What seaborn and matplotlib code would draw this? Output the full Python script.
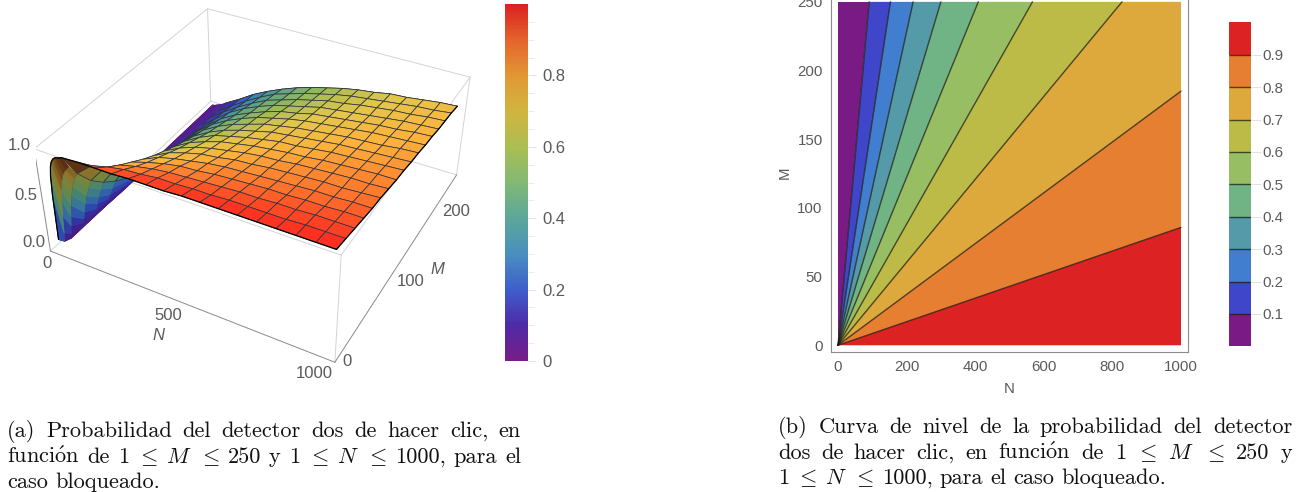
import numpy as np
import matplotlib
matplotlib.use("Agg")
import matplotlib.pyplot as plt
import seaborn as sns
from mpl_toolkits.mplot3d.art3d import Poly3DCollection

# === Data ===
# coarse part of the surface: one row per N mesh line, one column per M mesh line
n_coarse = [63.4, 125.9, 188.3, 250.8, 313.2, 375.6, 438.1, 500.5, 562.9, 625.4,
            687.8, 750.3, 812.7, 875.1, 937.6, 1000]
m_coarse = [1, 16.6, 32.1, 47.7, 63.3, 78.8, 94.4, 110, 125.5, 141.1, 156.6,
            172.2, 187.8, 203.3, 218.9, 234.4, 250]
p_coarse = [
    [.97, .72, .55, .43, .34, .27, .22, .19, .16, .14, .12, .10, .09, .08, .08, .07, .07],
    [.98, .85, .73, .64, .56, .49, .43, .38, .34, .30, .27, .25, .22, .20, .19, .17, .16],
    [.98, .89, .81, .74, .67, .61, .56, .51, .47, .43, .40, .37, .34, .32, .29, .27, .26],
    [.98, .92, .85, .79, .74, .69, .64, .60, .56, .52, .49, .46, .43, .41, .38, .36, .34],
    [.99, .93, .88, .83, .78, .74, .70, .66, .63, .59, .56, .53, .50, .48, .46, .44, .41],
    [.99, .95, .90, .86, .81, .78, .74, .71, .67, .64, .61, .59, .56, .54, .51, .49, .47],
    [.99, .95, .91, .87, .84, .80, .77, .74, .71, .68, .66, .63, .61, .58, .56, .54, .52],
    [1.0, .96, .92, .89, .86, .83, .80, .77, .74, .72, .69, .67, .64, .62, .60, .58, .56],
    [1.0, .96, .93, .90, .87, .84, .82, .79, .77, .74, .72, .70, .68, .66, .64, .62, .60],
    [1.0, .97, .94, .91, .88, .86, .83, .81, .78, .76, .74, .72, .70, .68, .66, .65, .63],
    [1.0, .97, .94, .92, .89, .87, .85, .82, .80, .78, .76, .74, .72, .70, .69, .67, .65],
    [1.0, .97, .95, .92, .90, .88, .86, .84, .82, .80, .78, .76, .74, .72, .71, .69, .68],
    [1.0, .97, .95, .93, .91, .89, .87, .85, .83, .81, .79, .78, .76, .74, .73, .71, .69],
    [1.0, .98, .96, .93, .91, .89, .88, .86, .84, .82, .80, .79, .77, .76, .74, .73, .71],
    [1.0, .98, .96, .94, .92, .90, .88, .87, .85, .83, .82, .80, .79, .77, .76, .74, .73],
    [1.0, .98, .96, .94, .92, .91, .89, .87, .86, .84, .83, .81, .80, .78, .77, .76, .74],
]
# steep part near N = 1, finer in N
n_fine = [1, 4, 8, 13, 19, 27, 36, 49, 63.4]
m_fine = [1, 8, 16.6, 32.1, 47.7, 63.3, 94.4, 125.5, 156.6, 187.8, 218.9, 250]
p_fine = [
    [.10, .03, 0, 0, 0, 0, 0, 0, 0, 0, 0, 0],
    [.56, .12, .05, .02, .01, .01, .00, .00, .00, .00, .00, .00],
    [.75, .30, .14, .06, .035, .02, .01, .01, .005, .005, .00, .00],
    [.84, .46, .24, .11, .065, .045, .03, .02, .012, .01, .01, .005],
    [.89, .58, .365, .185, .11, .08, .05, .035, .025, .02, .015, .012],
    [.925, .68, .48, .28, .175, .12, .075, .05, .04, .03, .025, .02],
    [.945, .75, .57, .37, .25, .175, .11, .08, .06, .045, .04, .03],
    [.955, .80, .66, .465, .345, .255, .16, .11, .085, .065, .055, .045],
    [.97, .84, .72, .55, .43, .34, .22, .16, .12, .09, .08, .07],
]
# contour plot: where each level line leaves the square
top_levels = [.1, .2, .3, .4, .5, .6, .7]
top_n = [91, 153, 219, 300, 409, 567, 828]
right_levels = [.8, .9]
right_m = [185, 85.8]

band_colors = ["#7A1B85", "#3F46C9", "#427ECF", "#549AA9", "#70B486",
               "#98BE63", "#BDBB48", "#DDA93D", "#E67F32", "#DC2222"]
bar_colors = ["#781C86", "#4E2BA6", "#3F5FCC", "#4A8FBF", "#5CA79A", "#82B976",
              "#ABBE52", "#D0B540", "#E29735", "#E3642B", "#DB2122"]
surface_colors = ["#5C1A8C", "#3A2AA8", "#3355C8", "#3C85B8", "#4C9E94", "#76B070",
                  "#A8BE54", "#E4C64A", "#FDB23C", "#FF7A2E", "#FF2A20"]

caption_a = ["(a) Probabilidad del detector dos de hacer clic, en",
             "$\\mathrm{funci\\acute{o}n}$ de 1 $\\leq$ $M$ $\\leq$ 250 y 1 $\\leq$ $N$ $\\leq$ 1000, para el",
             "caso bloqueado."]
caption_b = ["(b) Curva de nivel de la probabilidad del detector",
             "dos de hacer clic, en $\\mathrm{funci\\acute{o}n}$ de 1 $\\leq$ $M$ $\\leq$ 250 y",
             "1 $\\leq$ $N$ $\\leq$ 1000, para el caso bloqueado."]

# === Style ===
sns.set_style("white")
plt.rcParams["font.family"] = ["Liberation Sans", "DejaVu Sans"]
plt.rcParams["mathtext.fontset"] = "cm"
TEXT = "#5a5a5a"
W, H = 1303, 492

fig = plt.figure(figsize=(W / 100, H / 100), dpi=100)
surface_cmap = sns.blend_palette(surface_colors, as_cmap=True)
bar_cmap = sns.blend_palette(bar_colors, as_cmap=True)


def px_text(x, y, s, **kw):
    kw.setdefault("color", TEXT)
    kw.setdefault("ha", "center")
    kw.setdefault("va", "center")
    return fig.text(x / W, 1 - y / H, s, **kw)


def px_axes(x0, y0, x1, y1, **kw):
    return fig.add_axes([x0 / W, 1 - y1 / H, (x1 - x0) / W, (y1 - y0) / H], **kw)


# === Surface ===
ELEV, AZIM = 36.21, -61.63
XLIM, YLIM, ZLIM = (-20, 1025), (-5, 255), (0, 1.02)
side = 441.7
cx, cy = 257.1, 168.9
ax3 = px_axes(cx - side / 2, cy - side / 2, cx + side / 2, cy + side / 2, projection="3d")
ax3.view_init(elev=ELEV, azim=AZIM)
ax3.set_proj_type("persp", focal_length=0.435)
ax3.set_box_aspect((1, 1, 0.4))
ax3.set_xlim(*XLIM)
ax3.set_ylim(*YLIM)
ax3.set_zlim(*ZLIM)
ax3.set_axis_off()
ax3.patch.set_alpha(0)
ax3.computed_zorder = False

cam = np.array([np.cos(np.radians(ELEV)) * np.cos(np.radians(AZIM)),
                np.cos(np.radians(ELEV)) * np.sin(np.radians(AZIM)),
                np.sin(np.radians(ELEV))])


def face_color(quad):
    """Colour by height; the underside gets darker towards the top."""
    q = np.array(quad)
    z = q[:, 2].mean()
    c = np.array(surface_cmap(z))
    scale = np.array([1 / 1000, 1 / 250, 0.4])
    normal = np.cross((q[2] - q[0]) * scale, (q[3] - q[1]) * scale)
    if normal[2] < 0:
        normal = -normal
    if normal @ cam < 0:
        c[:3] *= 0.9 * (1 - 0.8 * z ** 2.5)
    return c


polys, faces, edges = [], [], []
LINE = (0.2, 0.2, 0.22, 1.0)
DARK = (0, 0, 0, 1.0)


def add_faces(ns, ms, ps, edge):
    for i in range(len(ns) - 1):
        for j in range(len(ms) - 1):
            quad = [(ns[i], ms[j], ps[i][j]), (ns[i + 1], ms[j], ps[i + 1][j]),
                    (ns[i + 1], ms[j + 1], ps[i + 1][j + 1]), (ns[i], ms[j + 1], ps[i][j + 1])]
            c = face_color(quad)
            polys.append(quad)
            faces.append(c)
            edges.append(c if edge is None else edge)


add_faces(n_fine, m_fine, p_fine, None)
add_faces(n_coarse, m_coarse, p_coarse, LINE)

# mesh lines of the fine part, which has no mesh line on its own cell edges
for j, m in enumerate(m_fine):
    if m == 8:
        continue
    for i in range(len(n_fine) - 1):
        polys.append([(n_fine[i], m, p_fine[i][j]), (n_fine[i + 1], m, p_fine[i + 1][j])])
        faces.append(LINE)
        edges.append(LINE)
for j in range(len(m_fine) - 1):
    polys.append([(n_fine[0], m_fine[j], p_fine[0][j]), (n_fine[0], m_fine[j + 1], p_fine[0][j + 1])])
    faces.append(DARK)
    edges.append(DARK)
for i in range(len(n_coarse) - 1):
    polys.append([(n_coarse[i], 250, p_coarse[i][-1]), (n_coarse[i + 1], 250, p_coarse[i + 1][-1])])
    faces.append(DARK)
    edges.append(DARK)

surface = Poly3DCollection(polys, facecolors=faces, edgecolors=edges, linewidths=0.55, zorder=2)
ax3.add_collection3d(surface)

# front edges of the surface
edge_n = n_fine + n_coarse[1:]
edge_p = [r[0] for r in p_fine] + [r[0] for r in p_coarse[1:]]
ax3.plot(edge_n, [1] * len(edge_n), edge_p, color="k", lw=0.9, zorder=3)
ax3.plot([1000] * len(m_coarse), m_coarse, p_coarse[-1], color="k", lw=0.9, zorder=3)

# box
x0, x1 = XLIM
y0, y1 = YLIM
z0, z1 = ZLIM
light = [((x0, y1, z0), (x1, y1, z0)), ((x1, y1, z0), (x1, y1, z1)), ((x0, y1, z0), (x0, y1, z1)),
         ((x0, y0, z0), (x0, y1, z0)), ((x0, y0, z1), (x1, y0, z1)), ((x1, y0, z1), (x1, y1, z1)),
         ((x1, y1, z1), (x0, y1, z1)), ((x0, y1, z1), (x0, y0, z1)), ((x1, y0, z0), (x1, y0, z1))]
for a, b in light:
    ax3.plot(*zip(a, b), color="#d4d4d4", lw=0.7, zorder=1)
dark = [((x0, y0, z0), (x1, y0, z0)), ((x1, y0, z0), (x1, y1, z0)), ((x0, y0, z0), (x0, y0, z1))]
for a, b in dark:
    ax3.plot(*zip(a, b), color="#8a8a8a", lw=0.7, zorder=1)

for x, y, s in [(47, 263, "0"), (168, 316, "500"), (314, 373, "1000"),
                (347, 362, "0"), (411, 281, "100"), (456, 212, "200"),
                (19, 145, "1.0"), (26, 195, "0.5"), (34, 242, "0.0")]:
    px_text(x, y, s, fontsize=12)
px_text(158, 336, "N", fontsize=12, style="italic")
px_text(437, 269, "M", fontsize=12, style="italic")

# === Gradient colour bar ===
cb1 = px_axes(504.5, 4, 528, 361)
cb1.pcolormesh([0, 1], np.linspace(0, 1, 257), np.linspace(0, 1, 256)[:, None],
               cmap=bar_cmap, vmin=0, vmax=1)
cb1.set_xlim(0, 1)
cb1.set_ylim(0, 1)
cb1.set_xticks([])
cb1.yaxis.tick_right()
cb1.set_yticks([0, .2, .4, .6, .8], ["0", "0.2", "0.4", "0.6", "0.8"])
cb1.set_yticks(np.arange(0.05, 1, 0.05), minor=True)
cb1.tick_params(axis="y", which="major", length=6, width=0.6, color="#dddddd",
                labelcolor=TEXT, labelsize=12, pad=4)
cb1.tick_params(axis="y", which="minor", length=4, width=0.6, color="#e6e6e6")
sns.despine(ax=cb1, left=True, right=True, top=True, bottom=True)

# === Contour plot ===
ax = px_axes(831, -5, 1188, 352)
ends = [(0, 250)] + [(n, 250) for n in top_n] + [(1000, 250)] + [(1000, m) for m in right_m] + [(1000, 0)]
pairs = [ends[i:i + 2] for i in range(len(ends) - 1)]
# the band holding the top right corner is made of two of these pieces
band_pieces = [[pairs[i]] for i in range(len(top_n))]
band_pieces.append([pairs[len(top_n)], pairs[len(top_n) + 1]])
band_pieces.append([pairs[len(top_n) + 2]])
band_pieces.append([pairs[len(top_n) + 3]])
for pieces, color in zip(band_pieces, band_colors):
    xs = [0] + [p[0] for piece in pieces for p in piece]
    ys = [0] + [p[1] for piece in pieces for p in piece]
    ax.fill(xs, ys, facecolor=color, edgecolor="none", lw=0)
for n in top_n:
    ax.plot([0, n], [0, 250], color="#1d1d12", alpha=0.75, lw=1.0)
for m in right_m:
    ax.plot([0, 1000], [0, m], color="#1d1d12", alpha=0.75, lw=1.0)
ax.set_xlim(-20.4, 1020.4)
ax.set_ylim(-4.9, 255)
ax.set_xticks(range(0, 1001, 200))
ax.set_yticks(range(0, 251, 50))
ax.set_xticks(range(0, 1001, 40), minor=True)
ax.set_yticks(range(0, 251, 10), minor=True)
ax.tick_params(which="major", direction="in", length=4, width=0.6, color="#aaaaaa",
               labelcolor=TEXT, labelsize=10.8, pad=6)
ax.tick_params(which="minor", direction="in", length=2, width=0.5, color="#bbbbbb")
for s in ax.spines.values():
    s.set_color("#8c8c8c")
    s.set_linewidth(0.8)
px_text(785, 173, "M", fontsize=10.8, rotation=90)
px_text(1009, 389, "N", fontsize=10.8)

# === Banded colour bar ===
cb2 = px_axes(1229, 22.4, 1251, 346.4)
band_edges = np.arange(0, 1.01, 0.1)
for i, color in enumerate(band_colors):
    cb2.fill_between([0, 1], band_edges[i], band_edges[i + 1], color=color, lw=0)
cb2.hlines(band_edges[1:-1], 0, 1, color="#1d1d12", alpha=0.75, lw=1.0)
cb2.set_xlim(0, 1)
cb2.set_ylim(0, 1)
cb2.set_xticks([])
cb2.yaxis.tick_right()
cb2.set_yticks(band_edges[1:-1], [f"{v:.1f}" for v in band_edges[1:-1]])
cb2.tick_params(axis="y", length=7, width=0.6, color="#dddddd", labelcolor=TEXT,
                labelsize=10.8, pad=1)
sns.despine(ax=cb2, left=True, right=True, top=True, bottom=True)


# === Captions, justified like the page they came from ===
def justified(lines, x_start, x_end, baselines):
    renderer = fig.canvas.get_renderer()
    for k, (line, base) in enumerate(zip(lines, baselines)):
        words = line.split(" ")
        arts = [fig.text(0, 1 - base / H, w, family=["cmr10", "DejaVu Serif"], fontsize=16.1,
                         color="#111111", va="baseline") for w in words]
        widths = [a.get_window_extent(renderer).width for a in arts]
        if k == len(lines) - 1:
            gap = 7
        else:
            gap = (x_end - x_start - sum(widths)) / (len(words) - 1)
        x = x_start
        for a, w in zip(arts, widths):
            a.set_x(x / W)
            x += w + gap


justified(caption_a, 7, 521, [437, 463, 488])
justified(caption_b, 778, 1292, [433, 459, 484])

fig.savefig("out.png", dpi=100)
